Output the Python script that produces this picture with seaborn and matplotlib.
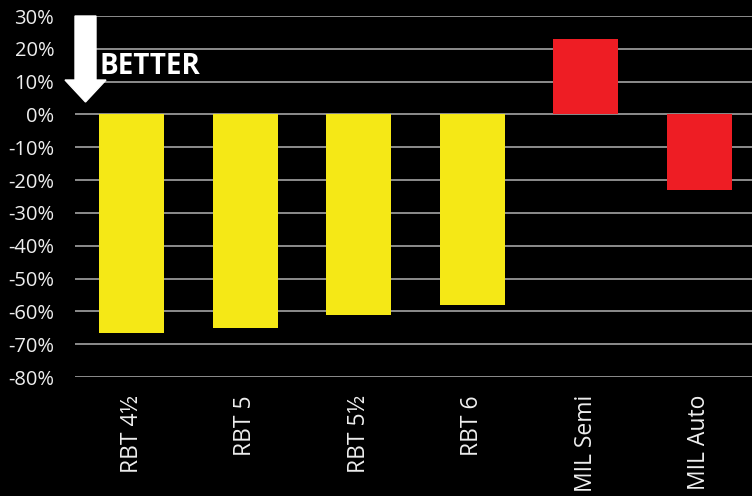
import numpy as np
import matplotlib
matplotlib.use("Agg")
import matplotlib.pyplot as plt
import seaborn as sb
from matplotlib.patches import FancyArrow
from matplotlib.transforms import IdentityTransform
from matplotlib.ticker import FuncFormatter

# data
categorias = ["RBT 4½", "RBT 5", "RBT 5½", "RBT 6", "MIL Semi", "MIL Auto"]
valores = [-66.6, -65.0, -61.2, -58.0, 23.0, -23.0]
cores = ["#F5E816", "#F5E816", "#F5E816", "#F5E816", "#EE1D24", "#EE1D24"]
yticks = list(range(-80, 31, 10))

sb.set_style("dark")
plt.rcParams["font.family"] = ["Open Sans", "DejaVu Sans"]

W, H = 752, 496
fig = plt.figure(figsize=(W / 100, H / 100), dpi=100, facecolor="black")
# axes box in pixels: left 75, right 756, top 16, bottom 377
ax = fig.add_axes([75 / W, 1 - 377 / H, (756 - 75) / W, (377 - 16) / H])
ax.set_facecolor("black")

sb.barplot(x=categorias, y=valores, hue=categorias, palette=cores,
           width=0.57, legend=False, ax=ax, saturation=1, zorder=3,
           linewidth=0)

ax.set_ylim(-80, 30)
ax.set_xlim(-0.5, 5.5)
ax.set_yticks(yticks)
ax.yaxis.set_major_formatter(FuncFormatter(lambda v, p: f"{v:.0f}%"))
ax.grid(axis="y", color="#8c8c8c", linewidth=1.4, zorder=0)
ax.grid(axis="x", visible=False)
for s in ax.spines.values():
    s.set_visible(False)
ax.tick_params(axis="y", length=0, pad=15, labelsize=14.5, labelcolor="#eeeeee")
ax.tick_params(axis="x", length=0, pad=13, labelsize=16.5, labelcolor="#eeeeee",
               rotation=90)
ax.set_xlabel("")
ax.set_ylabel("")

# "better" arrow (pixel coords)
seta = FancyArrow(85.5, H - 16, 0, -(102 - 16), width=21, head_width=41,
                  head_length=22, length_includes_head=True,
                  transform=IdentityTransform(), color="white", clip_on=False,
                  zorder=5)
fig.patches.append(seta)
fig.text(100 / W, 1 - 66 / H, "BETTER", color="white", fontsize=20,
         fontweight="bold", ha="left", va="center")

fig.savefig("out.png", dpi=100, facecolor="black")
